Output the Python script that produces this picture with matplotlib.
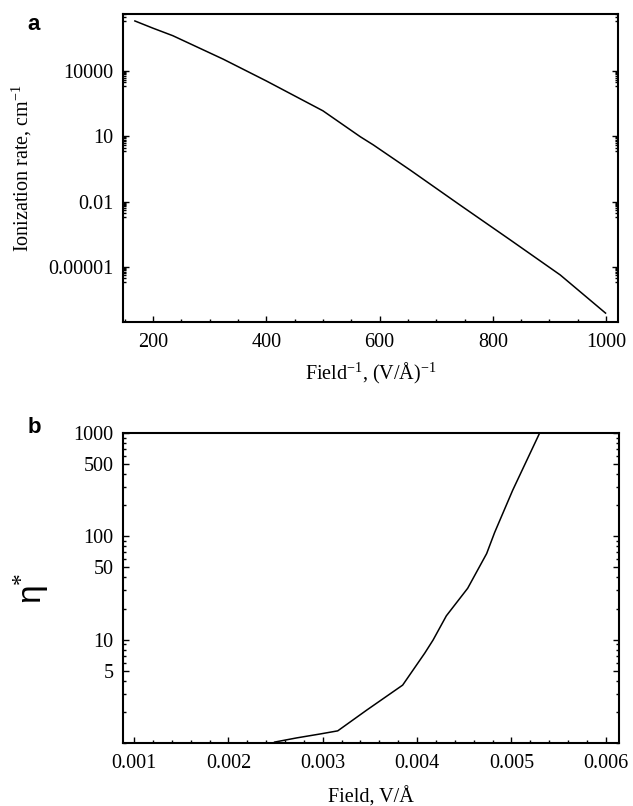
import matplotlib
matplotlib.use('Agg')
from matplotlib import pyplot as plt
from matplotlib import ticker

# panel a: ionization rate vs inverse field
inv_field = [168, 200, 235, 324, 400, 500, 566, 589, 654, 742, 831, 919, 999]
ion_rate = [2.0e6, 9.3e5, 4.2e5, 3.5e4, 3.5e3, 148, 9.5, 4.0, 0.28, 6.9e-3, 1.7e-4, 4.2e-6, 7.4e-8]
a_xticks = [200, 400, 600, 800, 1000]
a_yticks = [1e-5, 1e-2, 10, 1e4]
a_yticklabels = ['0.00001', '0.01', '10', '10000']

# panel b: eta* vs field
field = [0.00249, 0.002725, 0.002968, 0.003159, 0.003466, 0.003847, 0.004081,
         0.004169, 0.004310, 0.004536, 0.004737, 0.004822, 0.005013, 0.005299, 0.00540]
eta = [1.02, 1.12, 1.22, 1.31, 2.08, 3.63, 7.4, 9.9, 17, 31.4, 68, 109, 279, 1000, 1500]
b_xticks = [0.001, 0.002, 0.003, 0.004, 0.005, 0.006]
b_xticklabels = ['0.001', '0.002', '0.003', '0.004', '0.005', '0.006']
b_yticks = [5, 10, 50, 100, 500, 1000]
b_yticklabels = ['5', '10', '50', '100', '500', '1000']

serif = ['Liberation Serif', 'DejaVu Serif']
sans = ['Liberation Sans', 'DejaVu Sans']
plt.rcParams['font.family'] = serif
plt.rcParams['mathtext.fontset'] = 'custom'
plt.rcParams['mathtext.rm'] = 'Liberation Serif'

fig = plt.figure(figsize=(6.33, 8.06), dpi=100)
ax_a = fig.add_axes([0.1943, 0.6005, 0.7820, 0.3821])
ax_b = fig.add_axes([0.1943, 0.0782, 0.7836, 0.3846])


def style_axes(ax):
    for sp in ax.spines.values():
        sp.set_linewidth(1.5)
    ax.tick_params(which='both', direction='in', top=False, right=True,
                   labelsize=14.5, width=1.0, pad=7)
    ax.tick_params(which='major', length=4.5)
    ax.tick_params(which='minor', length=2.5)
    ax.tick_params(axis='x', which='both', top=False, pad=8)


# panel a
ax_a.plot(inv_field, ion_rate, color='black', lw=1.1)
ax_a.set_yscale('log')
ax_a.set_xlim(147, 1021)
ax_a.set_ylim(10 ** -7.54, 10 ** 6.62)
ax_a.xaxis.set_major_locator(ticker.FixedLocator(a_xticks))
ax_a.xaxis.set_minor_locator(ticker.MultipleLocator(50))
ax_a.set_xticklabels([str(t) for t in a_xticks])
ax_a.yaxis.set_major_locator(ticker.FixedLocator(a_yticks))
ax_a.set_yticklabels(a_yticklabels)
a_minor = [m * 10.0 ** k for k in range(-9, 7, 3) for m in range(2, 10)]
ax_a.yaxis.set_minor_locator(ticker.FixedLocator(a_minor))
ax_a.yaxis.set_minor_formatter(ticker.NullFormatter())
style_axes(ax_a)
ax_a.set_xlabel('Field$^{-1}$, (V/Å)$^{-1}$', fontsize=14.5, labelpad=6)
ax_a.set_ylabel('Ionization rate, cm$^{-1}$', fontsize=14.5, labelpad=10)

# panel b
ax_b.plot(field, eta, color='black', lw=1.1)
ax_b.set_yscale('log')
ax_b.set_xlim(0.000883, 0.00614)
ax_b.set_ylim(1, 1000)
ax_b.xaxis.set_major_locator(ticker.FixedLocator(b_xticks))
ax_b.set_xticklabels(b_xticklabels)
ax_b.xaxis.set_minor_locator(ticker.MultipleLocator(0.0002))
ax_b.yaxis.set_major_locator(ticker.FixedLocator(b_yticks))
ax_b.set_yticklabels(b_yticklabels)
b_minor = [m * 10.0 ** k for k in range(0, 3) for m in range(1, 10)]
ax_b.yaxis.set_minor_locator(ticker.FixedLocator(b_minor))
ax_b.yaxis.set_minor_formatter(ticker.NullFormatter())
style_axes(ax_b)
ax_b.set_xlabel('Field, V/Å', fontsize=14.5, labelpad=10)
ax_b.set_ylabel('η$^{*}$', fontsize=24, family=sans, labelpad=16)

fig.text(0.043, 0.969, 'a', fontsize=16, fontweight='bold', family=sans, ha='left', va='center')
fig.text(0.043, 0.469, 'b', fontsize=16, fontweight='bold', family=sans, ha='left', va='center')

fig.savefig('out.png', dpi=100)
